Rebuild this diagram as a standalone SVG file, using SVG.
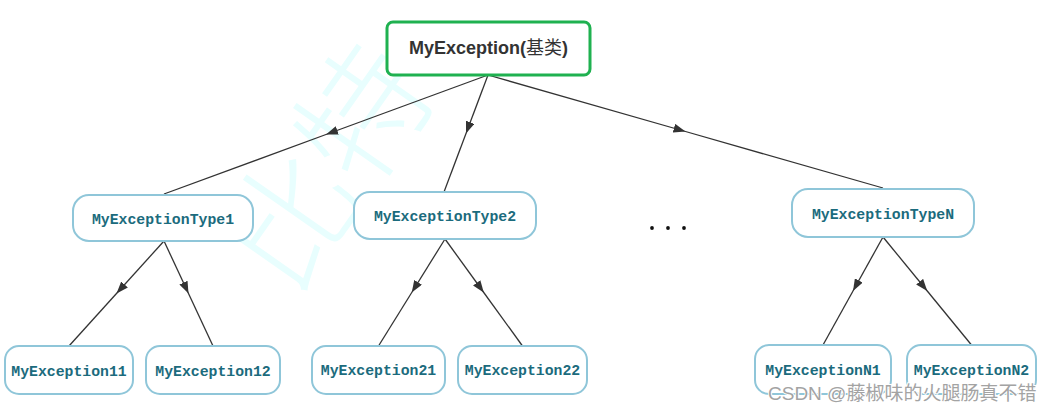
<svg xmlns="http://www.w3.org/2000/svg" width="1043" height="411" viewBox="0 0 1043 411">
<defs>
<style>
.bg{fill:#ffffff}
.wm{fill:#e8fefe;font-family:"Noto Sans CJK SC",sans-serif;font-weight:300;font-size:130px}
.root{fill:#ffffff;stroke:#1fb150;stroke-width:3}
.box{fill:#ffffff;stroke:#8fc6d9;stroke-width:2}
.rt{font-family:"Liberation Sans",Arial,sans-serif;font-weight:bold;font-size:18px;fill:#333333;text-anchor:middle}
.cjk{font-family:"Noto Sans CJK SC",sans-serif;font-weight:normal}
.mt{font-family:"Liberation Mono","Courier New",monospace;font-weight:bold;font-size:14.8px;fill:#1b6b7d;text-anchor:middle}
.ln{fill:none;stroke:#333333;stroke-width:1.3;marker-mid:url(#arr)}
.csdn{font-family:"Liberation Sans","Noto Sans CJK SC",sans-serif;font-size:19px;fill:#a3a3a3;stroke:#ffffff;stroke-width:2;paint-order:stroke}
</style>
<marker id="arr" viewBox="0 0 12 9" refX="12" refY="4.5" markerWidth="12" markerHeight="9" markerUnits="userSpaceOnUse" orient="auto">
<path d="M0,0 L12,4.5 L0,9 z" fill="#333333"/>
</marker>
</defs>
<rect class="bg" x="0" y="0" width="1043" height="411"/>
<text class="wm" x="291" y="300" transform="rotate(-55 291 300)">比特</text>
<g id="connectors">
<path class="ln" d="M488,75 L326,134.5 L164,194"/>
<path class="ln" d="M488,75 L466,133.5 L444,192"/>
<path class="ln" d="M488,75 L685.5,131.5 L883,188"/>
<path class="ln" d="M164,241 L116.5,293.5 L69,346"/>
<path class="ln" d="M164,241 L188.5,293.5 L213,346"/>
<path class="ln" d="M445,239 L411.75,292.5 L378.5,346"/>
<path class="ln" d="M445,239 L483.75,292.5 L522.5,346"/>
<path class="ln" d="M883,237 L853,291 L823,345"/>
<path class="ln" d="M883,237 L927.25,291 L971.5,345"/>
</g>
<g id="root">
<rect class="root" x="387" y="22" width="203" height="53" rx="6"/>
<text class="rt" x="488.5" y="54">MyException(<tspan class="cjk">基类</tspan>)</text>
</g>
<g id="type1">
<rect class="box" x="73" y="195" width="180" height="46" rx="16"/>
<text class="mt" x="163" y="224">MyExceptionType1</text>
</g>
<g id="type2">
<rect class="box" x="354" y="192" width="182" height="47" rx="16"/>
<text class="mt" x="445" y="221">MyExceptionType2</text>
</g>
<g id="typeN">
<rect class="box" x="792" y="189" width="182" height="48" rx="16"/>
<text class="mt" x="883" y="219">MyExceptionTypeN</text>
</g>
<g id="ellipsis">
<circle cx="652" cy="228" r="1.9" fill="#111111"/>
<circle cx="668" cy="228" r="1.9" fill="#111111"/>
<circle cx="684" cy="228" r="1.9" fill="#111111"/>
</g>
<g id="e11">
<rect class="box" x="5" y="346" width="128" height="48" rx="14"/>
<text class="mt" x="69" y="376">MyException11</text>
</g>
<g id="e12">
<rect class="box" x="146" y="346" width="134" height="48" rx="14"/>
<text class="mt" x="213" y="376">MyException12</text>
</g>
<g id="e21">
<rect class="box" x="312" y="346" width="133" height="48" rx="14"/>
<text class="mt" x="378.5" y="375">MyException21</text>
</g>
<g id="e22">
<rect class="box" x="458" y="346" width="129" height="48" rx="14"/>
<text class="mt" x="522.5" y="375">MyException22</text>
</g>
<g id="eN1">
<rect class="box" x="755" y="345" width="136" height="49" rx="14"/>
<text class="mt" x="823" y="375">MyExceptionN1</text>
</g>
<g id="eN2">
<rect class="box" x="907" y="345" width="129" height="49" rx="14"/>
<text class="mt" x="971.5" y="375">MyExceptionN2</text>
</g>
<text class="csdn" x="768" y="400">CSDN @藤椒味的火腿肠真不错</text>
</svg>
